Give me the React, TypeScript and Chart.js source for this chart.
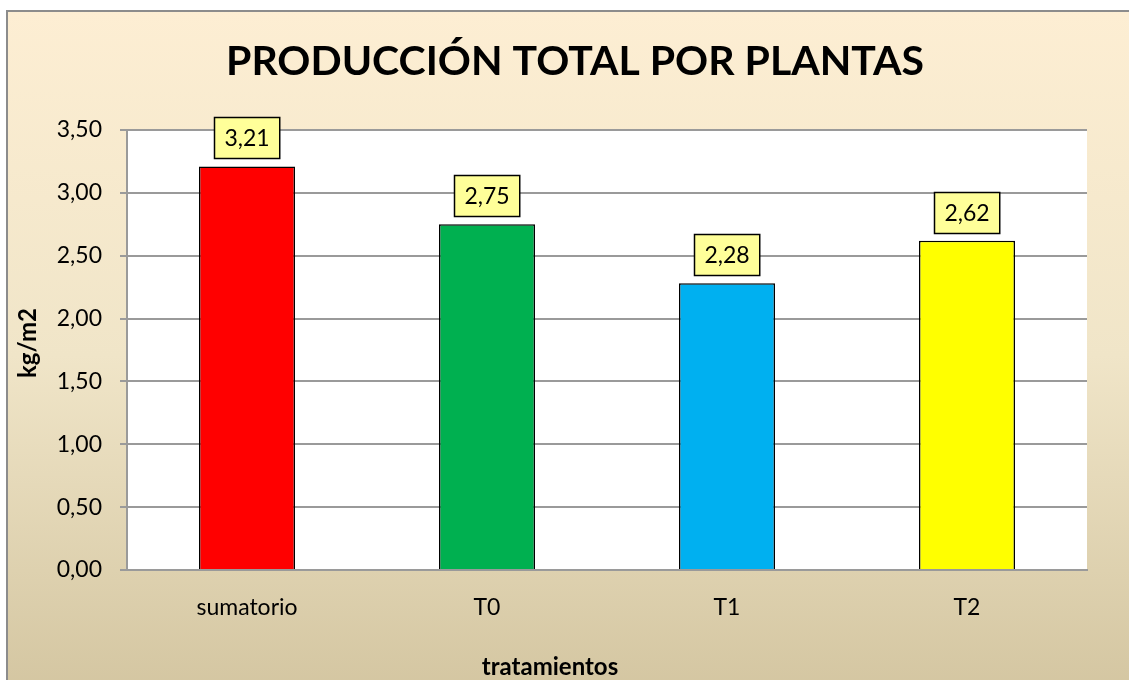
import React, { useEffect, useRef } from "react";
import { Chart, registerables } from "chart.js";

Chart.register(...registerables);

const categories = ["sumatorio", "T0", "T1", "T2"];
const values = [3.21, 2.75, 2.28, 2.62];
const barColors = ["#FF0000", "#00B050", "#00B0F0", "#FFFF00"];
const yTickValues = [0, 0.5, 1, 1.5, 2, 2.5, 3, 3.5];
const chartTitle = "PRODUCCIÓN TOTAL POR PLANTAS";
const yAxisTitle = "kg/m2";
const xAxisTitle = "tratamientos";

const FONT = "Lato, 'Open Sans', sans-serif";
const fmt = (v: number) => v.toFixed(2).replace(".", ",");

export default function App() {
  const ref = useRef<HTMLCanvasElement>(null);

  useEffect(() => {
    if (!ref.current) return;
    document.documentElement.style.overflow = "hidden";
    document.body.style.overflow = "hidden";
    document.body.style.margin = "0";

    const background = {
      id: "background",
      beforeDraw(chart: any) {
        const ctx = chart.ctx;
        const { width, height } = chart;
        ctx.save();
        const g = ctx.createLinearGradient(0, 11, 0, 700);
        g.addColorStop(0, "#FDEED3");
        g.addColorStop(0.5, "#F0E5C8");
        g.addColorStop(1, "#D3C5A0");
        ctx.fillStyle = g;
        ctx.fillRect(7, 11, width, height);
        ctx.strokeStyle = "#8C8C8C";
        ctx.lineWidth = 2;
        ctx.beginPath();
        ctx.moveTo(7, height);
        ctx.lineTo(7, 11);
        ctx.lineTo(width, 11);
        ctx.stroke();
        const a = chart.chartArea;
        ctx.fillStyle = "#FFFFFF";
        ctx.fillRect(a.left, a.top, a.right - a.left, a.bottom - a.top);
        ctx.restore();
      },
      afterDraw(chart: any) {
        const ctx = chart.ctx;
        ctx.save();
        ctx.fillStyle = "#000";
        ctx.textAlign = "center";
        ctx.textBaseline = "middle";
        ctx.font = `bold 41px ${FONT}`;
        ctx.fillText(chartTitle, 575, 62);
        ctx.font = `bold 24px ${FONT}`;
        ctx.fillText(xAxisTitle, 550, 667);
        ctx.translate(28, 343);
        ctx.rotate(-Math.PI / 2);
        ctx.fillText(yAxisTitle, 0, 0);
        ctx.restore();
      },
    };

    const dataLabels = {
      id: "dataLabels",
      afterDatasetsDraw(chart: any) {
        const ctx = chart.ctx;
        const meta = chart.getDatasetMeta(0);
        ctx.save();
        ctx.font = `23px ${FONT}`;
        ctx.textAlign = "center";
        ctx.textBaseline = "middle";
        meta.data.forEach((bar: any, i: number) => {
          const txt = fmt(values[i]);
          const w = ctx.measureText(txt).width + 20;
          const h = 41;
          const bottom = bar.y - 8;
          const x0 = Math.round(bar.x - w / 2) + 0.5;
          const y0 = Math.round(bottom - h) + 0.5;
          ctx.fillStyle = "#FFFF99";
          ctx.fillRect(x0, y0, w, h);
          ctx.strokeStyle = "#000";
          ctx.lineWidth = 1.5;
          ctx.strokeRect(x0, y0, w, h);
          ctx.fillStyle = "#000";
          ctx.fillText(txt, bar.x, bottom - h / 2 + 1);
        });
        ctx.restore();
      },
    };

    const chart = new Chart(ref.current, {
      type: "bar",
      data: {
        labels: categories,
        datasets: [
          {
            data: values,
            backgroundColor: barColors,
            borderColor: "#000",
            borderWidth: 1.5,
            barPercentage: 0.4,
            categoryPercentage: 1,
          },
        ],
      },
      options: {
        animation: false,
        responsive: false,
        maintainAspectRatio: false,
        devicePixelRatio: 1,
        layout: { padding: { left: 0, top: 130, right: 42, bottom: 0 } },
        plugins: { legend: { display: false }, tooltip: { enabled: false }, title: { display: false } },
        scales: {
          y: {
            min: 0,
            max: 3.5,
            afterBuildTicks: (scale: any) => {
              scale.ticks = yTickValues.map((v) => ({ value: v }));
            },
            afterFit: (scale: any) => {
              scale.width = 127;
            },
            grid: { color: "#9A9A9A", lineWidth: 2, tickLength: 7, drawTicks: true },
            border: { display: true, color: "#9A9A9A", width: 2 },
            ticks: {
              font: { family: FONT, size: 23 },
              color: "#000",
              padding: 18,
              callback: (v: any) => fmt(Number(v)),
            },
          },
          x: {
            afterFit: (scale: any) => {
              scale.height = 110;
            },
            grid: { display: true, drawOnChartArea: false, drawTicks: false, tickLength: 0 },
            border: { display: true, color: "#9A9A9A", width: 2 },
            ticks: { font: { family: FONT, size: 23 }, color: "#000", padding: 24 },
          },
        },
      },
      plugins: [background, dataLabels],
    } as any);

    return () => chart.destroy();
  }, []);

  return (
    <div style={{ position: "fixed", left: 0, top: 0, width: 1129, height: 680, overflow: "hidden" }}>
      <canvas ref={ref} width={1129} height={680} style={{ display: "block", width: 1129, height: 680 }} />
    </div>
  );
}
